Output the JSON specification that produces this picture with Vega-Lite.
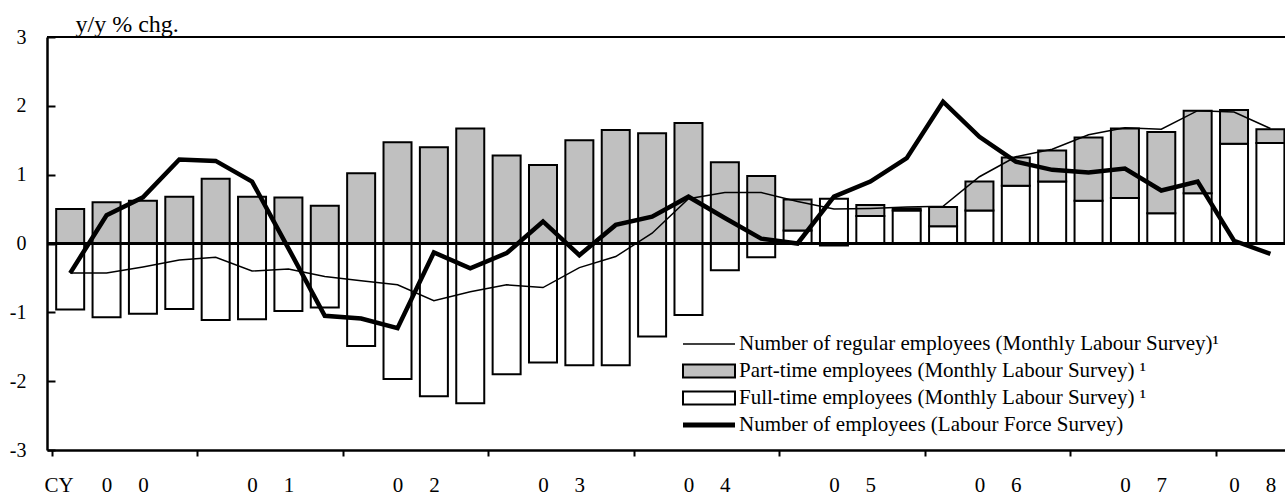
{
  "$schema": "https://vega.github.io/schema/vega-lite/v6.json",
  "width": 1238,
  "height": 413,
  "autosize": "none",
  "padding": {"left": 47, "top": 37, "right": 0, "bottom": 46},
  "background": "white",
  "config": {"view": {"stroke": null}, "font": "Liberation Serif"},
  "data": {"values": [
    {"t": 2000.125, "full": -0.96, "part": 0.50, "regular": -0.43, "lfs": -0.43},
    {"t": 2000.375, "full": -1.07, "part": 0.60, "regular": -0.43, "lfs": 0.41},
    {"t": 2000.625, "full": -1.02, "part": 0.62, "regular": -0.34, "lfs": 0.67},
    {"t": 2000.875, "full": -0.95, "part": 0.68, "regular": -0.24, "lfs": 1.22},
    {"t": 2001.125, "full": -1.11, "part": 0.94, "regular": -0.20, "lfs": 1.20},
    {"t": 2001.375, "full": -1.10, "part": 0.68, "regular": -0.40, "lfs": 0.90},
    {"t": 2001.625, "full": -0.98, "part": 0.67, "regular": -0.37, "lfs": -0.07},
    {"t": 2001.875, "full": -0.93, "part": 0.55, "regular": -0.48, "lfs": -1.05},
    {"t": 2002.125, "full": -1.49, "part": 1.02, "regular": -0.54, "lfs": -1.09},
    {"t": 2002.375, "full": -1.97, "part": 1.47, "regular": -0.60, "lfs": -1.23},
    {"t": 2002.625, "full": -2.22, "part": 1.40, "regular": -0.83, "lfs": -0.13},
    {"t": 2002.875, "full": -2.32, "part": 1.67, "regular": -0.70, "lfs": -0.36},
    {"t": 2003.125, "full": -1.90, "part": 1.28, "regular": -0.60, "lfs": -0.14},
    {"t": 2003.375, "full": -1.73, "part": 1.14, "regular": -0.64, "lfs": 0.32},
    {"t": 2003.625, "full": -1.77, "part": 1.50, "regular": -0.35, "lfs": -0.17},
    {"t": 2003.875, "full": -1.77, "part": 1.65, "regular": -0.19, "lfs": 0.27},
    {"t": 2004.125, "full": -1.35, "part": 1.60, "regular": 0.15, "lfs": 0.39},
    {"t": 2004.375, "full": -1.04, "part": 1.75, "regular": 0.65, "lfs": 0.68},
    {"t": 2004.625, "full": -0.39, "part": 1.18, "regular": 0.74, "lfs": 0.37},
    {"t": 2004.875, "full": -0.20, "part": 0.98, "regular": 0.74, "lfs": 0.07},
    {"t": 2005.125, "full": 0.19, "part": 0.45, "regular": 0.61, "lfs": 0.00},
    {"t": 2005.375, "full": 0.65, "part": -0.03, "regular": 0.50, "lfs": 0.68},
    {"t": 2005.625, "full": 0.40, "part": 0.16, "regular": 0.51, "lfs": 0.90},
    {"t": 2005.875, "full": 0.48, "part": 0.03, "regular": 0.53, "lfs": 1.24},
    {"t": 2006.125, "full": 0.25, "part": 0.28, "regular": 0.54, "lfs": 2.06},
    {"t": 2006.375, "full": 0.48, "part": 0.42, "regular": 0.97, "lfs": 1.55},
    {"t": 2006.625, "full": 0.84, "part": 0.41, "regular": 1.26, "lfs": 1.19},
    {"t": 2006.875, "full": 0.90, "part": 0.45, "regular": 1.37, "lfs": 1.07},
    {"t": 2007.125, "full": 0.62, "part": 0.92, "regular": 1.58, "lfs": 1.03},
    {"t": 2007.375, "full": 0.66, "part": 1.01, "regular": 1.68, "lfs": 1.09},
    {"t": 2007.625, "full": 0.44, "part": 1.18, "regular": 1.66, "lfs": 0.77},
    {"t": 2007.875, "full": 0.73, "part": 1.20, "regular": 1.93, "lfs": 0.90},
    {"t": 2008.125, "full": 1.45, "part": 0.49, "regular": 1.91, "lfs": 0.04},
    {"t": 2008.375, "full": 1.46, "part": 0.20, "regular": 1.67, "lfs": -0.15}
  ]},
  "layer": [
    {
      "transform": [{"fold": ["full", "part"]}],
      "mark": {"type": "bar", "size": 28, "stroke": "black", "strokeWidth": 2, "clip": true},
      "encoding": {
        "x": {
          "field": "t", "type": "quantitative",
          "scale": {"domain": [2000, 2008.441], "nice": false, "zero": false},
          "axis": {
            "values": [2000, 2000.045, 2000.375, 2000.625, 2001, 2001.375, 2001.625, 2002, 2002.375, 2002.625, 2003, 2003.375, 2003.625, 2004, 2004.375, 2004.625, 2005, 2005.375, 2005.625, 2006, 2006.375, 2006.625, 2007, 2007.375, 2007.625, 2008, 2008.125, 2008.375],
            "labelExpr": "datum.value % 1 === 0 ? '' : datum.value < 2000.1 ? 'CY' : datum.value > 2008.3 ? '8' : datum.value % 1 < 0.5 ? '0' : '' + (floor(datum.value) % 10)",
            "tickOpacity": {"condition": {"test": "datum.value % 1 === 0", "value": 1}, "value": 0},
            "tickSize": 6, "tickColor": "black", "tickWidth": 2,
            "domainColor": "black", "domainWidth": 2.5,
            "labelFont": "Liberation Serif", "labelFontSize": 21, "labelColor": "black",
            "labelFlush": false, "labelOverlap": false, "labelBound": false,
            "labelBaseline": "alphabetic", "labelPadding": 35,
            "grid": false, "title": null
          }
        },
        "y": {
          "field": "value", "type": "quantitative", "stack": "zero",
          "scale": {"domain": [-3, 3], "nice": false, "zero": false},
          "axis": {
            "values": [-3, -2, -1, 0, 1, 2, 3],
            "labelExpr": "'' + datum.value",
            "tickSize": -8, "tickColor": "black", "tickWidth": 2,
            "domainColor": "black", "domainWidth": 2.5,
            "labelFont": "Liberation Serif", "labelFontSize": 20, "labelColor": "black",
            "labelPadding": 29, "labelFlush": false, "labelOverlap": false, "labelBound": false,
            "grid": false,
            "title": "y/y % chg.", "titleAngle": 0, "titleX": 28, "titleY": -6,
            "titleAlign": "left", "titleBaseline": "alphabetic",
            "titleFont": "Liberation Serif", "titleFontSize": 24, "titleFontWeight": "normal", "titleColor": "black"
          }
        },
        "color": {
          "field": "key", "type": "nominal",
          "scale": {"domain": ["regular", "part", "full", "lfs"], "range": ["black", "#c0c0c0", "white", "black"]},
          "legend": {
            "orient": "none", "legendX": 636, "legendY": 296.5, "title": null,
            "labelExpr": "datum.value === 'regular' ? 'Number of regular employees (Monthly Labour Survey)¹' : datum.value === 'part' ? 'Part-time employees (Monthly Labour Survey) ¹' : datum.value === 'full' ? 'Full-time employees (Monthly Labour Survey) ¹' : 'Number of employees (Labour Force Survey)'",
            "labelFont": "Liberation Serif", "labelFontSize": 21, "labelColor": "black",
            "labelLimit": 0, "labelOffset": 19.5, "symbolOffset": 15.5, "rowPadding": 5, "symbolSize": 100,
            "encoding": {
              "symbols": {
                "shape": {"value": {"expr": "(datum.value === 'part' || datum.value === 'full' ? 'M-5.2,-1.3H5.2V1.3H-5.2Z' : 'M-5.2,0H5.2')"}},
                "stroke": {"value": "black"},
                "strokeWidth": {"value": {"expr": "(datum.value === 'regular' ? 1.5 : datum.value === 'lfs' ? 5 : 2)"}},
                "opacity": {"value": 1},
                "size": {"value": 100}
              }
            }
          }
        },
        "order": {"field": "key", "sort": "ascending"}
      }
    },
    {
      "mark": {"type": "rule", "stroke": "black", "strokeWidth": 2.5},
      "encoding": {"y": {"datum": 0}}
    },
    {
      "mark": {"type": "rule", "stroke": "black", "strokeWidth": 2},
      "encoding": {"y": {"datum": 3}}
    },
    {
      "transform": [{"fold": ["regular"]}],
      "mark": {"type": "line", "color": "black", "strokeWidth": 1.5, "clip": true},
      "encoding": {
        "x": {"field": "t", "type": "quantitative"},
        "y": {"field": "value", "type": "quantitative"}
      }
    },
    {
      "transform": [{"fold": ["lfs"]}],
      "mark": {"type": "line", "color": "black", "strokeWidth": 4.5, "clip": true},
      "encoding": {
        "x": {"field": "t", "type": "quantitative"},
        "y": {"field": "value", "type": "quantitative"}
      }
    }
  ]
}
